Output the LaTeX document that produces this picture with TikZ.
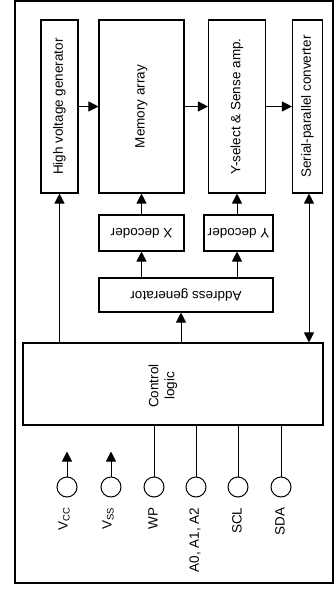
\documentclass[tikz,border=0pt]{standalone}
\usepackage{fontspec}
\setmainfont{Liberation Sans}
\usetikzlibrary{arrows.meta,calc}
\newcommand{\subsc}[1]{\raisebox{-0.3ex}{\fontsize{9.5}{10}\selectfont #1}}
\begin{document}
\begin{tikzpicture}[x=1pt,y=-1pt,
  box/.style={draw,line width=1.1pt,inner sep=0pt,font=\fontsize{13.5}{16}\selectfont},
  arr/.style={line width=1pt,-{Triangle[length=10pt,width=10pt]}},
  darr/.style={line width=1pt,{Triangle[length=10pt,width=10pt]}-{Triangle[length=10pt,width=10pt]}},
  wire/.style={line width=1pt},
  pin/.style={circle,draw,line width=1pt,minimum size=20pt,inner sep=0pt},
  lbl/.style={inner sep=0pt,font=\fontsize{13.5}{16}\selectfont,rotate=90,anchor=east}]
\useasboundingbox (0,0) rectangle (336,590);
\draw[line width=1.3pt] (15,1) rectangle (333,583);
% top blocks
\node[box,minimum width=37pt,minimum height=173pt] (hv) at (59.5,106.5) {\rotatebox{90}{High voltage generator}};
\node[box,minimum width=85pt,minimum height=173pt] (mem) at (141.5,106.5) {\rotatebox{90}{Memory array}};
\node[box,minimum width=57pt,minimum height=173pt] (ysel) at (237,106.5) {\rotatebox{90}{Y-select \& Sense amp.}};
\node[box,minimum width=30pt,minimum height=173pt] (sp) at (307.5,106.5) {\rotatebox{90}{Serial-parallel converter}};
% decoders
\node[box,minimum width=85pt,minimum height=36pt] (xdec) at (141.5,233) {\rotatebox{180}{X decoder}};
\node[box,minimum width=69pt,minimum height=36pt] (ydec) at (238.5,233) {\rotatebox{180}{Y decoder}};
\node[box,minimum width=174pt,minimum height=34pt] (addr) at (186,295) {\rotatebox{180}{Address generator}};
% control logic
\node[box,minimum width=300pt,minimum height=82pt] (ctrl) at (173,384) {};
\node[inner sep=0pt,font=\fontsize{13.5}{16}\selectfont,rotate=90,align=center] (ctrltxt) at (163,386) {Control\\logic};
% horizontal arrows
\draw[arr] (hv) -- (mem);
\draw[arr] (mem) -- (ysel);
\draw[arr] (ysel) -- (sp);
% vertical arrows
\draw[arr] (hv.south |- ctrl.north) -- (hv.south);
\draw[arr] (xdec.north) -- (mem.south);
\draw[arr] (ysel.south |- ydec.north) -- (ysel.south);
\draw[arr] (xdec.south |- addr.north) -- (xdec.south);
\draw[arr] (ysel.south |- addr.north) -- (ysel.south |- ydec.south);
\draw[arr] ([xshift=-5pt]addr.south |- ctrl.north) -- ([xshift=-5pt]addr.south);
\draw[darr] ([xshift=1.5pt]sp.south |- ctrl.north) -- ([xshift=1.5pt]sp.south);
% pins
\node[pin] (p1) at (67,487) {};
\node[pin] (p2) at (111,487) {};
\node[pin] (p3) at (154,487) {};
\node[pin] (p4) at (196,487) {};
\node[pin] (p5) at (238,487) {};
\node[pin] (p6) at (281,487) {};
\coordinate (t1) at ($(p1.north)+(0,-25)$);
\coordinate (t2) at ($(p2.north)+(0,-25)$);
\draw[arr] (p1.north) -- (t1);
\draw[arr] (p2.north) -- (t2);
\draw[wire] (p3.north) -- (p3.north |- ctrl.south);
\draw[wire] (p4.north) -- (p4.north |- ctrl.south);
\draw[wire] (p5.north) -- (p5.north |- ctrl.south);
\draw[wire] (p6.north) -- (p6.north |- ctrl.south);
% pin labels
\node[lbl] (l1) at ([xshift=-3pt,yshift=-10pt]p1.south) {V\subsc{CC}};
\node[lbl] (l2) at ([xshift=-3pt,yshift=-10pt]p2.south) {V\subsc{SS}};
\node[lbl] (l3) at ([xshift=-1pt,yshift=-10pt]p3.south) {WP};
\node[lbl] (l4) at ([xshift=-1pt,yshift=-10pt]p4.south) {A0, A1, A2};
\node[lbl] (l5) at ([xshift=-1pt,yshift=-10pt]p5.south) {SCL};
\node[lbl] (l6) at ([xshift=-1pt,yshift=-10pt]p6.south) {SDA};
\end{tikzpicture}
\end{document}
